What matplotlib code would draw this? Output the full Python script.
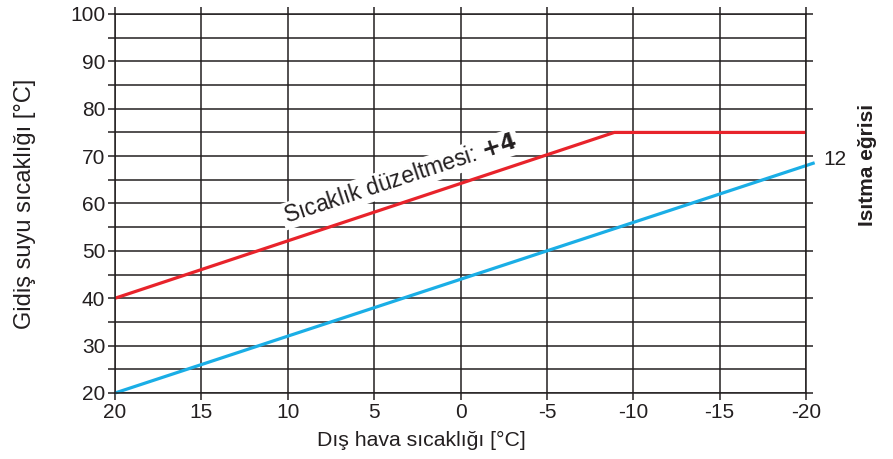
import matplotlib.pyplot as plt
import numpy as np

plt.rcParams['font.family'] = ['Liberation Sans', 'DejaVu Sans']

# outdoor temperature breakpoints and flow temperatures
x_blue = [20, -20.5]
y_blue = [20, 68.6]
x_red = [20, -8.9, -20]
y_red = [40, 75, 75]

x_ticks = [20, 15, 10, 5, 0, -5, -10, -15, -20]
y_ticks = [20, 30, 40, 50, 60, 70, 80, 90, 100]
y_minor = [25, 35, 45, 55, 65, 75, 85, 95]

fig = plt.figure(figsize=(8.93, 4.59), dpi=100)
ax = fig.add_axes([0.1288, 0.1438, 0.7738, 0.8257])

ax.set_xlim(20, -20)
ax.set_ylim(20, 100)
ax.set_xticks(x_ticks)
ax.set_xticklabels([str(v) for v in x_ticks])
ax.set_yticks(y_ticks)
ax.set_yticks(y_minor, minor=True)

ax.grid(True, which='both', color='#231f20', linewidth=1.1)
ax.set_axisbelow(True)
for s in ax.spines.values():
    s.set_color('#231f20')
    s.set_linewidth(1.1)

ax.tick_params(axis='both', which='both', direction='out', length=5, width=1.1,
               color='#231f20', labelsize=15, labelcolor='#231f20', pad=2)
ax.tick_params(axis='x', top=True)
ax.tick_params(axis='y', right=True)

ax.plot(x_red, y_red, color='#e8232b', linewidth=2.3, solid_capstyle='butt')
ax.plot(x_blue, y_blue, color='#1aaee6', linewidth=2.3, solid_capstyle='butt', clip_on=False)

ax.text(3.5, 65.2, 'Sıcaklık düzeltmesi: $\\mathbf{+4}$', rotation=18.2,
        rotation_mode='anchor', ha='center', va='center', fontsize=16.5, color='#231f20',
        bbox=dict(facecolor='white', edgecolor='none', pad=1.5))
ax.text(-21.0, 69.2, '12', fontsize=15, color='#231f20', ha='left', va='center', clip_on=False)
fig.text(0.971, 0.64, 'Isıtma eğrisi', rotation=90, fontsize=15, fontweight='bold',
         color='#231f20', ha='center', va='center')

ax.set_xlabel('Dış hava sıcaklığı [°C]', fontsize=15.3, color='#231f20')
ax.xaxis.set_label_coords(0.444, -0.10)
ax.set_ylabel('Gidiş suyu sıcaklığı [°C]', fontsize=17, color='#231f20')
ax.yaxis.set_label_coords(-0.115, 0.5)

fig.savefig('out.png', dpi=100)
